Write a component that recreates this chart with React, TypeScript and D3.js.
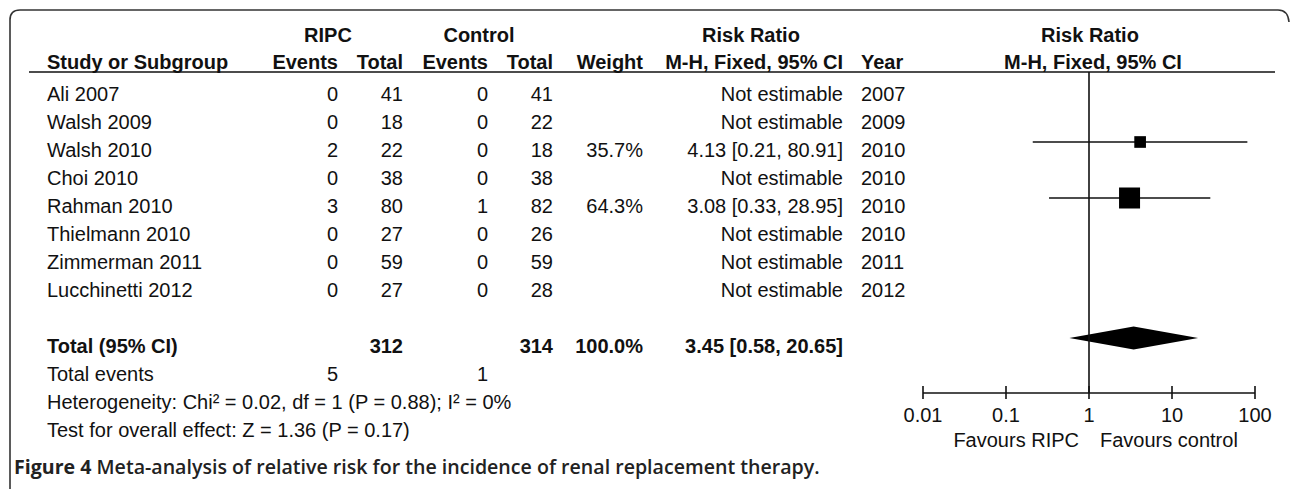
import React from 'react'
import * as d3 from 'd3'

// study rows
const studies = ['Ali 2007', 'Walsh 2009', 'Walsh 2010', 'Choi 2010', 'Rahman 2010', 'Thielmann 2010', 'Zimmerman 2011', 'Lucchinetti 2012']
const ripcEvents = [0, 0, 2, 0, 3, 0, 0, 0]
const ripcTotal = [41, 18, 22, 38, 80, 27, 59, 27]
const ctrlEvents = [0, 0, 0, 0, 1, 0, 0, 0]
const ctrlTotal = [41, 22, 18, 38, 82, 26, 59, 28]
const weights = [null, null, 35.7, null, 64.3, null, null, null]
const riskRatio = [null, null, 4.13, null, 3.08, null, null, null]
const ciLow = [null, null, 0.21, null, 0.33, null, null, null]
const ciHigh = [null, null, 80.91, null, 28.95, null, null, null]
const years = [2007, 2009, 2010, 2010, 2010, 2010, 2011, 2012]

// pooled
const totalRipc = 312
const totalCtrl = 314
const totalEventsRipc = 5
const totalEventsCtrl = 1
const pooledRR = 3.45
const pooledLow = 0.58
const pooledHigh = 20.65

const axisTicks = [0.01, 0.1, 1, 10, 100]
const heterogeneity = 'Heterogeneity: Chi² = 0.02, df = 1 (P = 0.88); I² = 0%'
const overallTest = 'Test for overall effect: Z = 1.36 (P = 0.17)'
const caption = 'Meta-analysis of relative risk for the incidence of renal replacement therapy.'

const W = 1290
const H = 489
const FONT = 'Arial, "Liberation Sans", sans-serif'
const FS = 20
const INK = '#111'

const fmt = (v: number) => v.toFixed(2)

export default function App() {
  const x = d3.scaleLog().domain([0.01, 100]).range([923, 1255])
  const row = d3.scaleLinear().domain([0, 1]).range([94, 122]) // text centre of row i
  const base = (i: number) => row(i) + 7
  const markY = (i: number) => row(i) - 8
  const size = d3.scaleLinear().domain([0, 64.3]).range([0, 21])

  const cols = { study: 47, rEv: 338, rTot: 403, cEv: 488, cTot: 553, weight: 643, rr: 843, year: 861 }
  const axisY = 393
  const topY = 72

  const txt = (props: any, s: any, bold = false) =>
    <text fontFamily={FONT} fontSize={FS} fill={INK} fontWeight={bold ? 'bold' : 'normal'} {...props}>{s}</text>

  const diamond = [
    [x(pooledLow), markY(9)],
    [x(pooledRR), markY(9) - 11.5],
    [x(pooledHigh), markY(9)],
    [x(pooledRR), markY(9) + 11.5],
  ]

  return <svg width={W} height={H} style={{ position: 'absolute', left: 0, top: 0, background: 'white' }}>
    <rect width={W} height={H} fill="white" />
    <path d={`M10,${H} L10,20 Q10,10 20,10 L1278,10 Q1288,10 1289,22`} fill="none" stroke="#333" strokeWidth={1.6} />

    {/* headers */}
    {txt({ x: 328, y: 42, textAnchor: 'middle' }, 'RIPC', true)}
    {txt({ x: 479, y: 42, textAnchor: 'middle' }, 'Control', true)}
    {txt({ x: 751, y: 42, textAnchor: 'middle' }, 'Risk Ratio', true)}
    {txt({ x: 1090, y: 42, textAnchor: 'middle' }, 'Risk Ratio', true)}
    {txt({ x: cols.study, y: 69 }, 'Study or Subgroup', true)}
    {txt({ x: cols.rEv, y: 69, textAnchor: 'end' }, 'Events', true)}
    {txt({ x: cols.rTot, y: 69, textAnchor: 'end' }, 'Total', true)}
    {txt({ x: cols.cEv, y: 69, textAnchor: 'end' }, 'Events', true)}
    {txt({ x: cols.cTot, y: 69, textAnchor: 'end' }, 'Total', true)}
    {txt({ x: cols.weight, y: 69, textAnchor: 'end' }, 'Weight', true)}
    {txt({ x: cols.rr, y: 69, textAnchor: 'end' }, 'M-H, Fixed, 95% CI', true)}
    {txt({ x: cols.year, y: 69 }, 'Year', true)}
    {txt({ x: 1093, y: 69, textAnchor: 'middle' }, 'M-H, Fixed, 95% CI', true)}
    <line x1={29} x2={1275} y1={topY} y2={topY} stroke={INK} strokeWidth={1.6} />

    {/* study rows */}
    {studies.map((s, i) => <g key={s}>
      {txt({ x: cols.study, y: base(i) }, s)}
      {txt({ x: cols.rEv, y: base(i), textAnchor: 'end' }, ripcEvents[i])}
      {txt({ x: cols.rTot, y: base(i), textAnchor: 'end' }, ripcTotal[i])}
      {txt({ x: cols.cEv, y: base(i), textAnchor: 'end' }, ctrlEvents[i])}
      {txt({ x: cols.cTot, y: base(i), textAnchor: 'end' }, ctrlTotal[i])}
      {weights[i] != null && txt({ x: cols.weight, y: base(i), textAnchor: 'end' }, `${weights[i]!.toFixed(1)}%`)}
      {txt({ x: cols.rr, y: base(i), textAnchor: 'end' },
        riskRatio[i] == null ? 'Not estimable' : `${fmt(riskRatio[i]!)} [${fmt(ciLow[i]!)}, ${fmt(ciHigh[i]!)}]`)}
      {txt({ x: cols.year, y: base(i) }, years[i])}
      {riskRatio[i] != null && <g>
        <line x1={x(ciLow[i]!)} x2={x(ciHigh[i]!)} y1={markY(i)} y2={markY(i)} stroke={INK} strokeWidth={1.6} />
        <rect x={x(riskRatio[i]!) - size(weights[i]!) / 2} y={markY(i) - size(weights[i]!) / 2}
              width={size(weights[i]!)} height={size(weights[i]!)} fill="#000" />
      </g>}
    </g>)}

    {/* totals */}
    {txt({ x: cols.study, y: base(9) }, 'Total (95% CI)', true)}
    {txt({ x: cols.rTot, y: base(9), textAnchor: 'end' }, totalRipc, true)}
    {txt({ x: cols.cTot, y: base(9), textAnchor: 'end' }, totalCtrl, true)}
    {txt({ x: cols.weight, y: base(9), textAnchor: 'end' }, '100.0%', true)}
    {txt({ x: cols.rr, y: base(9), textAnchor: 'end' }, `${fmt(pooledRR)} [${fmt(pooledLow)}, ${fmt(pooledHigh)}]`, true)}
    {txt({ x: cols.study, y: base(10) }, 'Total events')}
    {txt({ x: cols.rEv, y: base(10), textAnchor: 'end' }, totalEventsRipc)}
    {txt({ x: cols.cEv, y: base(10), textAnchor: 'end' }, totalEventsCtrl)}
    {txt({ x: cols.study, y: base(11) }, heterogeneity)}
    {txt({ x: cols.study, y: base(12) }, overallTest)}

    <polygon points={diamond.map(p => p.join(',')).join(' ')} fill="#000" />

    {/* forest axis */}
    <line x1={x(1)} x2={x(1)} y1={topY} y2={axisY} stroke={INK} strokeWidth={1.6} />
    <line x1={x(0.01)} x2={x(100)} y1={axisY} y2={axisY} stroke={INK} strokeWidth={1.6} />
    {axisTicks.map(t => <g key={t}>
      <line x1={x(t)} x2={x(t)} y1={axisY - 7} y2={axisY + 6} stroke={INK} strokeWidth={1.6} />
      {txt({ x: x(t), y: 422, textAnchor: 'middle' }, String(t))}
    </g>)}
    {txt({ x: x(1) - 10, y: 447, textAnchor: 'end' }, 'Favours RIPC')}
    {txt({ x: x(1) + 11, y: 447 }, 'Favours control')}

    <text x={14} y={474} fontFamily='"Open Sans", "Noto Sans", sans-serif' fontSize={19.6} fontWeight="bold" fill="#222">
      <tspan>Figure 4 </tspan><tspan fontWeight={600}>{caption}</tspan>
    </text>
  </svg>
}
